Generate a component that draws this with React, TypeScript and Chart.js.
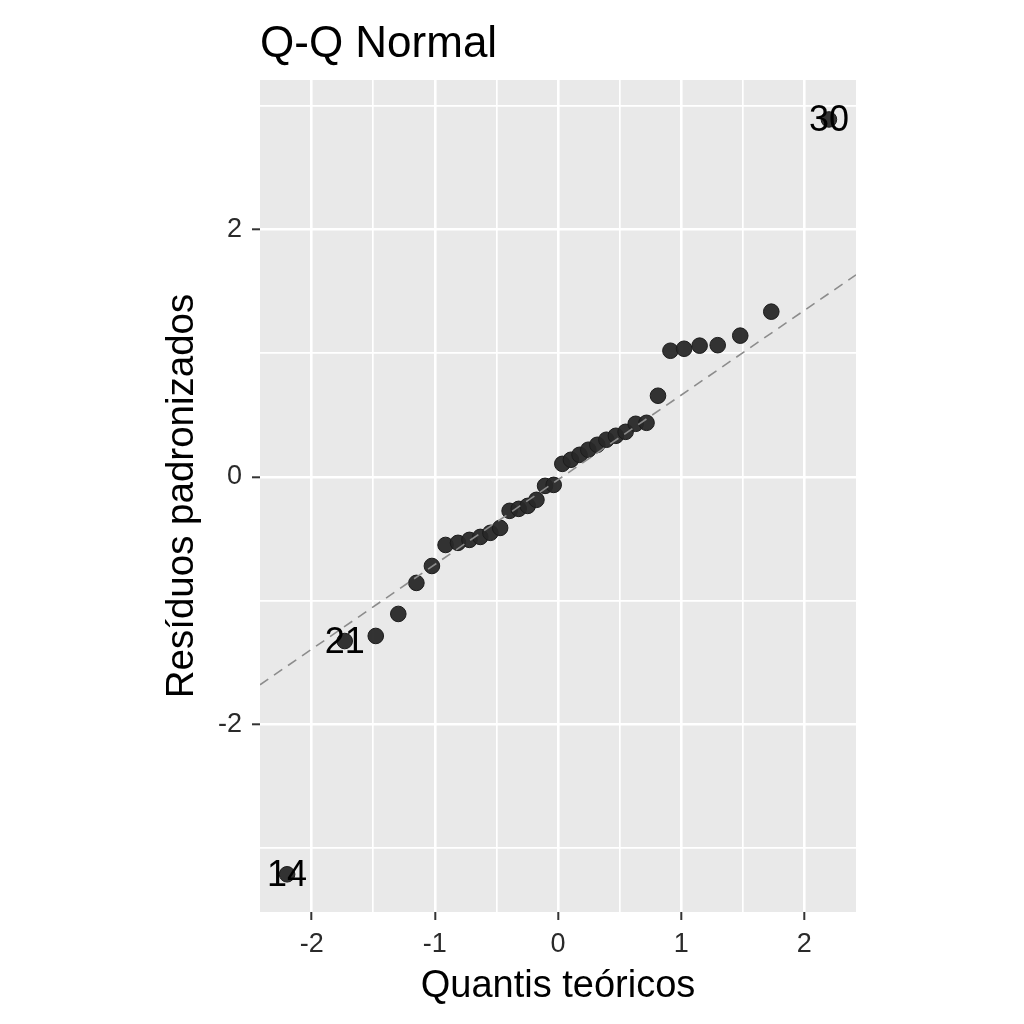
import React, { useEffect, useRef } from "react";
import { Chart, registerables } from "chart.js";

Chart.register(...registerables);

// Theoretical quantiles (x)
const theoreticalQuantiles = [
  -2.2, -1.732, -1.48, -1.297, -1.15, -1.024, -0.913, -0.812, -0.719, -0.631,
  -0.549, -0.47, -0.393, -0.319, -0.246, -0.175, -0.105, -0.035, 0.035, 0.105,
  0.175, 0.246, 0.319, 0.393, 0.47, 0.549, 0.631, 0.719, 0.812, 0.913, 1.024,
  1.15, 1.297, 1.48, 1.732, 2.2,
];
// Standardized residuals (y)
const standardizedResiduals = [
  -3.215, -1.328, -1.287, -1.109, -0.858, -0.721, -0.551, -0.534, -0.51, -0.486,
  -0.453, -0.413, -0.275, -0.259, -0.235, -0.186, -0.073, -0.065, 0.105, 0.138,
  0.178, 0.219, 0.259, 0.3, 0.332, 0.364, 0.429, 0.437, 0.656, 1.02, 1.036,
  1.061, 1.065, 1.142, 1.336, 2.891,
];
// Labelled observations (index into arrays, label text)
const labelledIndices = [0, 1, 35];
const labelledTexts = ["14", "21", "30"];

// Reference line
const refIntercept = -0.024;
const refSlope = 0.685;

// Axes
const xMin = -2.42;
const xMax = 2.42;
const yMin = -3.52;
const yMax = 3.21;
const xTickValues = [-2, -1.5, -1, -0.5, 0, 0.5, 1, 1.5, 2];
const xLabelValues = [-2, -1, 0, 1, 2];
const yTickValues = [-3, -2, -1, 0, 1, 2, 3];
const yLabelValues = [-2, 0, 2];

const chartTitle = "Q-Q Normal";
const xTitle = "Quantis teóricos";
const yTitle = "Resíduos padronizados";

const FONT = "'Liberation Sans', Arial, Helvetica, sans-serif";

export default function App() {
  const canvasRef = useRef<HTMLCanvasElement | null>(null);

  useEffect(() => {
    const canvas = canvasRef.current;
    if (!canvas) return;

    const bgPlugin = {
      id: "panelBg",
      beforeDraw(chart: any) {
        const { ctx, chartArea } = chart;
        ctx.save();
        ctx.fillStyle = "#ffffff";
        ctx.fillRect(0, 0, chart.width, chart.height);
        ctx.fillStyle = "#E9E9E9";
        ctx.fillRect(
          chartArea.left,
          chartArea.top,
          chartArea.right - chartArea.left,
          chartArea.bottom - chartArea.top
        );
        ctx.restore();
      },
    };

    const textPlugin = {
      id: "textPlugin",
      afterDatasetsDraw(chart: any) {
        const { ctx } = chart;
        const xs = chart.scales.x;
        const ys = chart.scales.y;
        ctx.save();
        ctx.fillStyle = "#000";
        ctx.font = `36px ${FONT}`;
        ctx.textAlign = "center";
        ctx.textBaseline = "middle";
        labelledIndices.forEach((idx, i) => {
          const px = xs.getPixelForValue(theoreticalQuantiles[idx]);
          const py = ys.getPixelForValue(standardizedResiduals[idx]);
          ctx.fillText(labelledTexts[i], px, py + 2);
        });
        ctx.restore();
      },
      afterDraw(chart: any) {
        const { ctx, chartArea } = chart;
        ctx.save();
        ctx.fillStyle = "#000";
        ctx.font = `44px ${FONT}`;
        ctx.textAlign = "left";
        ctx.textBaseline = "alphabetic";
        ctx.fillText(chartTitle, chartArea.left, 57);

        ctx.font = `38px ${FONT}`;
        ctx.textAlign = "center";
        ctx.fillText(xTitle, (chartArea.left + chartArea.right) / 2, 997);

        ctx.translate(193, (chartArea.top + chartArea.bottom) / 2);
        ctx.rotate(-Math.PI / 2);
        ctx.font = `38.5px ${FONT}`;
        ctx.fillText(yTitle, 0, 0);
        ctx.restore();
      },
    };

    const isIn = (arr: number[], v: number) =>
      arr.some((a) => Math.abs(a - v) < 1e-9);

    const chart = new Chart(canvas, {
      type: "scatter",
      data: {
        datasets: [
          {
            type: "line",
            label: "ref",
            data: [
              { x: xMin, y: refIntercept + refSlope * xMin },
              { x: xMax, y: refIntercept + refSlope * xMax },
            ],
            borderColor: "#8c8c8c",
            borderWidth: 1.6,
            borderDash: [10, 7],
            pointRadius: 0,
            fill: false,
            order: 0,
          } as any,
          {
            label: "resid",
            data: theoreticalQuantiles.map((x, i) => ({
              x,
              y: standardizedResiduals[i],
            })),
            backgroundColor: "rgba(40,40,40,0.95)",
            borderColor: "#1c1c1c",
            borderWidth: 1,
            pointRadius: 7.8,
            order: 1,
          },
        ],
      },
      options: {
        responsive: false,
        animation: false,
        devicePixelRatio: 1,
        layout: { padding: { top: 80, right: 168, left: 0, bottom: 0 } },
        plugins: {
          legend: { display: false },
          tooltip: { enabled: false },
          title: { display: false },
        },
        scales: {
          x: {
            type: "linear",
            min: xMin,
            max: xMax,
            afterBuildTicks: (scale: any) => {
              scale.ticks = xTickValues.map((v) => ({ value: v }));
            },
            afterFit: (scale: any) => {
              scale.height = 112;
            },
            border: { display: false },
            grid: {
              color: "#ffffff",
              lineWidth: (ctx: any) =>
                isIn(xLabelValues, ctx.tick?.value) ? 2.6 : 1.7,
              tickColor: (ctx: any) =>
                isIn(xLabelValues, ctx.tick?.value) ? "#333333" : "rgba(0,0,0,0)",
              tickWidth: 2,
              tickLength: 8,
            },
            ticks: {
              autoSkip: false,
              maxRotation: 0,
              padding: 8,
              color: "#2a2a2a",
              font: { family: FONT, size: 27 },
              callback: (v: any) => (isIn(xLabelValues, Number(v)) ? String(v) : ""),
            },
          },
          y: {
            type: "linear",
            min: yMin,
            max: yMax,
            afterBuildTicks: (scale: any) => {
              scale.ticks = yTickValues.map((v) => ({ value: v }));
            },
            afterFit: (scale: any) => {
              scale.width = 260;
            },
            border: { display: false },
            grid: {
              color: "#ffffff",
              lineWidth: (ctx: any) =>
                isIn(yLabelValues, ctx.tick?.value) ? 2.6 : 1.7,
              tickColor: (ctx: any) =>
                isIn(yLabelValues, ctx.tick?.value) ? "#333333" : "rgba(0,0,0,0)",
              tickWidth: 2,
              tickLength: 8,
            },
            ticks: {
              autoSkip: false,
              padding: 10,
              color: "#2a2a2a",
              font: { family: FONT, size: 27 },
              callback: (v: any) => (isIn(yLabelValues, Number(v)) ? String(v) : ""),
            },
          },
        },
      },
      plugins: [bgPlugin, textPlugin],
    });

    return () => {
      chart.destroy();
    };
  }, []);

  return (
    <div style={{ position: "absolute", left: 0, top: 0, width: 1024, height: 1024, background: "#fff" }}>
      <canvas
        ref={canvasRef}
        width={1024}
        height={1024}
        style={{ width: 1024, height: 1024, display: "block" }}
      />
    </div>
  );
}
